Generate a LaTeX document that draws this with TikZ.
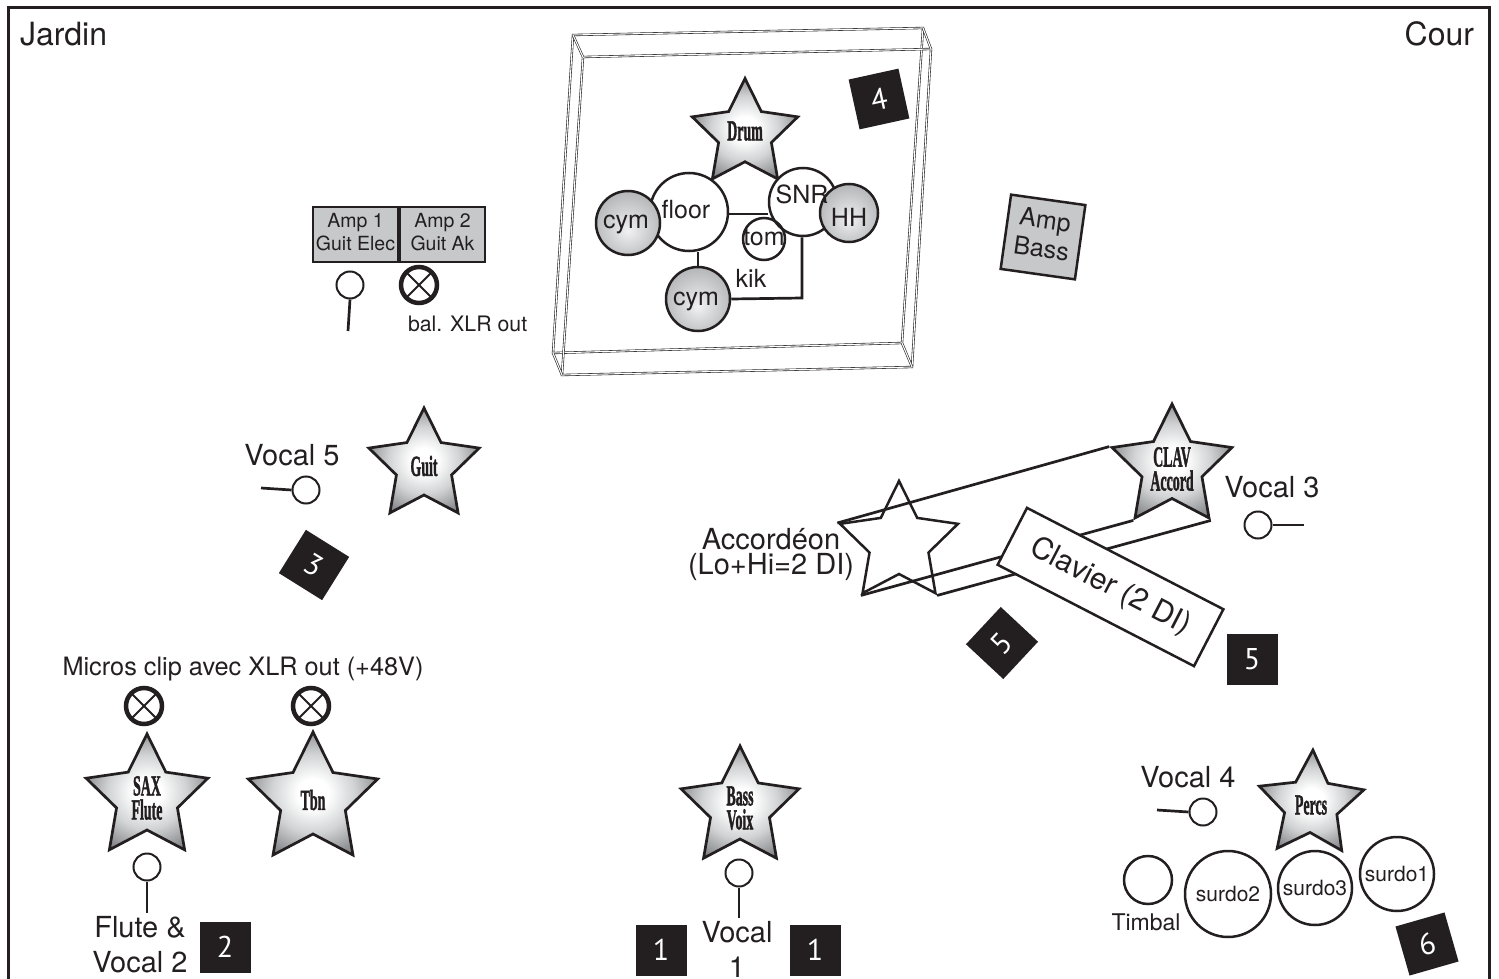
\documentclass[tikz,border=0pt]{standalone}
\usepackage{fontspec}
\usepackage{graphicx}
\setmainfont{TeX Gyre Heros}
\newfontfamily\starfont[BoldFont={Liberation Serif Bold},BoldFeatures={FakeBold=2}]{Liberation Serif}
\newfontfamily\numfont{PT Sans}
\usetikzlibrary{positioning,shapes.geometric}
\definecolor{ink}{HTML}{231F20}
\definecolor{ampgray}{HTML}{C7C8CA}
\definecolor{stardark}{HTML}{58595B}
\definecolor{starmid}{HTML}{939598}
\definecolor{starlight}{HTML}{D1D3D4}
\definecolor{cymlight}{HTML}{F1F1F2}
\definecolor{cymdark}{HTML}{A7A9AC}
\pgfdeclareradialshading{starshade}{\pgfpoint{0bp}{0bp}}{color(0bp)=(white); color(6bp)=(white); color(16bp)=(starlight); color(25bp)=(starmid); color(34bp)=(stardark); color(50bp)=(stardark)}
\pgfdeclareradialshading{cymshade}{\pgfpoint{0bp}{-6bp}}{color(0bp)=(cymlight); color(34bp)=(cymdark); color(60bp)=(cymdark)}
\newcommand{\starname}[1]{\scalebox{.48}[1]{\starfont\bfseries #1}}
\tikzset{
    size/.style={font=\fontsize{#1}{#1}\selectfont},
    plain/.style={inner sep=0, outer sep=0, text=ink, align=center},
    wall/.style={draw=ink, line width=.6, double=white, double distance=1.1},
    conn/.style={draw=ink, line width=2.7},
    starnode/.style={star, star points=5, star point ratio=2, draw=ink, line width=2.7,
        inner sep=0, minimum size=#1, shading=starshade},
    emptystar/.style={star, star points=5, star point ratio=2, draw=ink, line width=2.5,
        inner sep=0, minimum size=#1},
    starlab/.style={plain, font=\fontsize{29}{24}\selectfont},
    drumnode/.style={circle, draw=ink, line width=2.5, inner sep=0, minimum size=#1, fill=white},
    cymnode/.style={circle, draw=ink, line width=2.5, inner sep=0, minimum size=#1, shading=cymshade},
    micnode/.style={circle, draw=ink, line width=2, inner sep=0, minimum size=27},
    xlrnode/.style={circle, draw=ink, line width=4.5, inner sep=0, minimum size=36,
        path picture={
            \draw[ink, line width=2] (path picture bounding box.south west) -- (path picture bounding box.north east);
            \draw[ink, line width=2] (path picture bounding box.north west) -- (path picture bounding box.south east);
        }},
    ampnode/.style={rectangle, draw=ink, line width=2.5, fill=ampgray, inner sep=0},
    amplab/.style={plain, font=\fontsize{19.5}{23}\selectfont, yshift=2pt},
    numbox/.style={rectangle, fill=ink, text=white, minimum size=51, inner sep=0,
        font=\numfont\fontsize{30}{30}\selectfont},
}

\begin{document}
\begin{tikzpicture}[x=1pt, y=-1pt]
    \useasboundingbox (0,0) rectangle (1499,979);

    \coordinate (frameA) at (8,979);
    \coordinate (frameB) at (8,8);
    \coordinate (frameC) at (1489,8);
    \coordinate (frameD) at (1489,979);
    \draw[ink, line width=3] (frameA) -- (frameB) -- (frameC) -- (frameD);

    \node[plain, size=32, anchor=base west] (jardin) at (20,46) {Jardin};
    \node[plain, size=32, anchor=base east] (cour) at (1474,46) {Cour};

    \coordinate (backA) at (573,35);
    \coordinate (backB) at (923,28);
    \coordinate (backC) at (902,343);
    \coordinate (backD) at (553,353);
    \coordinate (frontA) at (583,57);
    \coordinate (frontB) at (931,49);
    \coordinate (frontC) at (912,367);
    \coordinate (frontD) at (562,375);
    \draw[wall] (backA) -- (backB) -- (backC) -- (backD) -- cycle;
    \draw[wall] (frontA) -- (frontB) -- (frontC) -- (frontD) -- cycle;
    \draw[wall] (backA) -- (frontA);
    \draw[wall] (backB) -- (frontB);
    \draw[wall] (backC) -- (frontC);
    \draw[wall] (backD) -- (frontD);

    \node[numbox, rotate=12.4] (num4) at (879,99) {4};

    \node[starnode=111, label={[starlab, yshift=3pt]center:\starname{Drum}}] (drum) at (745,134) {};
    \coordinate (kikcorner) at (802,298);
    \node[drumnode=78] (floor) at (689,212) {};
    \node[drumnode=68] (snr) at (803,202) {};
    \node[cymnode=64] (cym1) at (628,223) {};
    \node[cymnode=64] (cym2) at (698,299) {};
    \node[cymnode=58] (hh) at (849,213) {};
    \node[circle, draw=ink, line width=2.5, inner sep=0, minimum size=42] (tom) at (764,239) {};
    \draw[conn] (floor.east |- 0,214) -- (snr.west |- 0,214);
    \draw[conn] (floor.south -| 698,0) -- (cym2.north);
    \draw[conn] (cym2.east) -- (kikcorner) -- (snr.south -| kikcorner);

    \node[plain, size=25] (floortext) at (686,210) {floor};
    \node[plain, size=25] (snrtext) at (802,194) {SNR};
    \node[plain, size=25] (cym1text) at (626,224) {cym};
    \node[plain, size=25] (cym2text) at (696,301) {cym};
    \node[plain, size=25] (hhtext) at (849,217) {HH};
    \node[plain, size=25] (tomtext) at (764,237) {tom};
    \node[plain, size=25] (kiktext) at (751,278) {kik};

    \node[ampnode, minimum width=85, minimum height=55, label={[amplab]center:Amp 1\\Guit Elec}] (amp1) at (355.5,234.5) {};
    \node[ampnode, minimum width=85, minimum height=55, label={[amplab]center:Amp 2\\Guit Ak}] (amp2) at (442.5,234.5) {};
    \node[micnode] (micamp) at (350,285) {};
    \coordinate (micampend) at (348,331);
    \draw[conn] (micamp.south) -- (micampend);
    \node[xlrnode] (xlramp) at (419,285) {};
    \node[plain, size=21.3, anchor=base west] (baltext) at (408,331) {bal. XLR out};

    \node[ampnode, rotate=-8, minimum size=75, label={[plain, rotate=-8, yshift=3pt, font=\fontsize{25}{29}\selectfont]center:Amp\\Bass}] (ampbass) at (1043,237) {};

    \node[starnode=116, label={[starlab]center:\starname{Guit}}] (guit) at (424,466) {};
    \node[plain, size=29, anchor=base] (voc5text) at (292,465) {Vocal 5};
    \node[micnode] (voc5) at (306,490) {};
    \coordinate (voc5end) at (261,488);
    \draw[conn] (voc5end) -- (voc5.west);
    \node[numbox, rotate=-32] (num3) at (314,565) {3};

    \node[emptystar=124, fill=white] (accord) at (899,543) {};
    \node[starnode=126, label={[starlab, yshift=-2pt]center:\starname{CLAV}\\\starname{Accord}}] (clav) at (1172,467) {};
    \draw[conn] (accord.outer point 2) -- (clav.outer point 2);
    \draw[conn] (accord.outer point 3) -- (clav.outer point 3);
    \draw[conn] (accord.outer point 4) -- (clav.outer point 4);
    \node[rectangle, draw=ink, line width=2.5, fill=white, rotate=-27.3, minimum width=221,
        minimum height=64, inner sep=0, text=ink, size=30] (clavier) at (1110.5,587) {Clavier (2 DI)};
    \node[plain, font=\fontsize{29}{25}\selectfont] (accordtext) at (771,554) {Accordéon\\(Lo+Hi=2 DI)};
    \node[plain, size=29, anchor=base] (voc3text) at (1272,497) {Vocal 3};
    \node[micnode] (voc3) at (1258,525) {};
    \coordinate (voc3end) at (1304,525);
    \draw[conn] (voc3.east) -- (voc3end);
    \node[numbox, rotate=47] (num5a) at (1002,643) {5};
    \node[numbox] (num5b) at (1252,659) {5};

    \node[plain, size=25.3, anchor=base] (microstext) at (243,675) {Micros clip avec XLR out (+48V)};
    \node[xlrnode] (xlrsax) at (144,706) {};
    \node[xlrnode] (xlrtbn) at (311,706) {};
    \node[starnode=128, label={[starlab]center:\starname{SAX}\\\starname{Flute}}] (sax) at (147,798) {};
    \node[starnode=136, label={[starlab]center:\starname{Tbn}}] (tbn) at (313,800) {};
    \node[micnode] (flute) at (147,867) {};
    \coordinate (fluteend) at (147,913);
    \draw[conn] (flute.south) -- (fluteend);
    \node[plain, font=\fontsize{29}{35}\selectfont] (flutetext) at (140,945) {Flute \&\\Vocal 2};
    \node[numbox] (num2) at (225,947) {2};

    \node[starnode=124, label={[starlab]center:\starname{Bass}\\\starname{Voix}}] (bass) at (740,808) {};
    \node[micnode] (voc1) at (739,873) {};
    \coordinate (voc1end) at (739,918);
    \draw[conn] (voc1.south) -- (voc1end);
    \node[plain, font=\fontsize{29}{35}\selectfont] (voc1text) at (737,949) {Vocal\\1};
    \node[numbox] (num1a) at (661,950) {1};
    \node[numbox] (num1b) at (815,950) {1};

    \node[starnode=110, rotate=-2, label={[starlab]center:\starname{Percs}}] (percs) at (1311,805) {};
    \node[plain, size=29, anchor=base] (voc4text) at (1188,787) {Vocal 4};
    \node[micnode] (voc4) at (1203,812) {};
    \coordinate (voc4end) at (1157,810);
    \draw[conn] (voc4end) -- (voc4.west);
    \node[drumnode=48, fill=none] (timbal) at (1148,880) {};
    \node[plain, size=23, anchor=base] (timbaltext) at (1146,930) {Timbal};
    \node[drumnode=86, font=\fontsize{21}{21}\selectfont, text=ink] (surdo2) at (1228,894) {surdo2};
    \node[drumnode=74, font=\fontsize{21}{21}\selectfont, text=ink] (surdo3) at (1315,888) {surdo3};
    \node[drumnode=74, font=\fontsize{21}{21}\selectfont, text=ink] (surdo1) at (1397,874) {surdo1};
    \node[numbox, rotate=16] (num6) at (1427,944) {6};
\end{tikzpicture}
\end{document}
